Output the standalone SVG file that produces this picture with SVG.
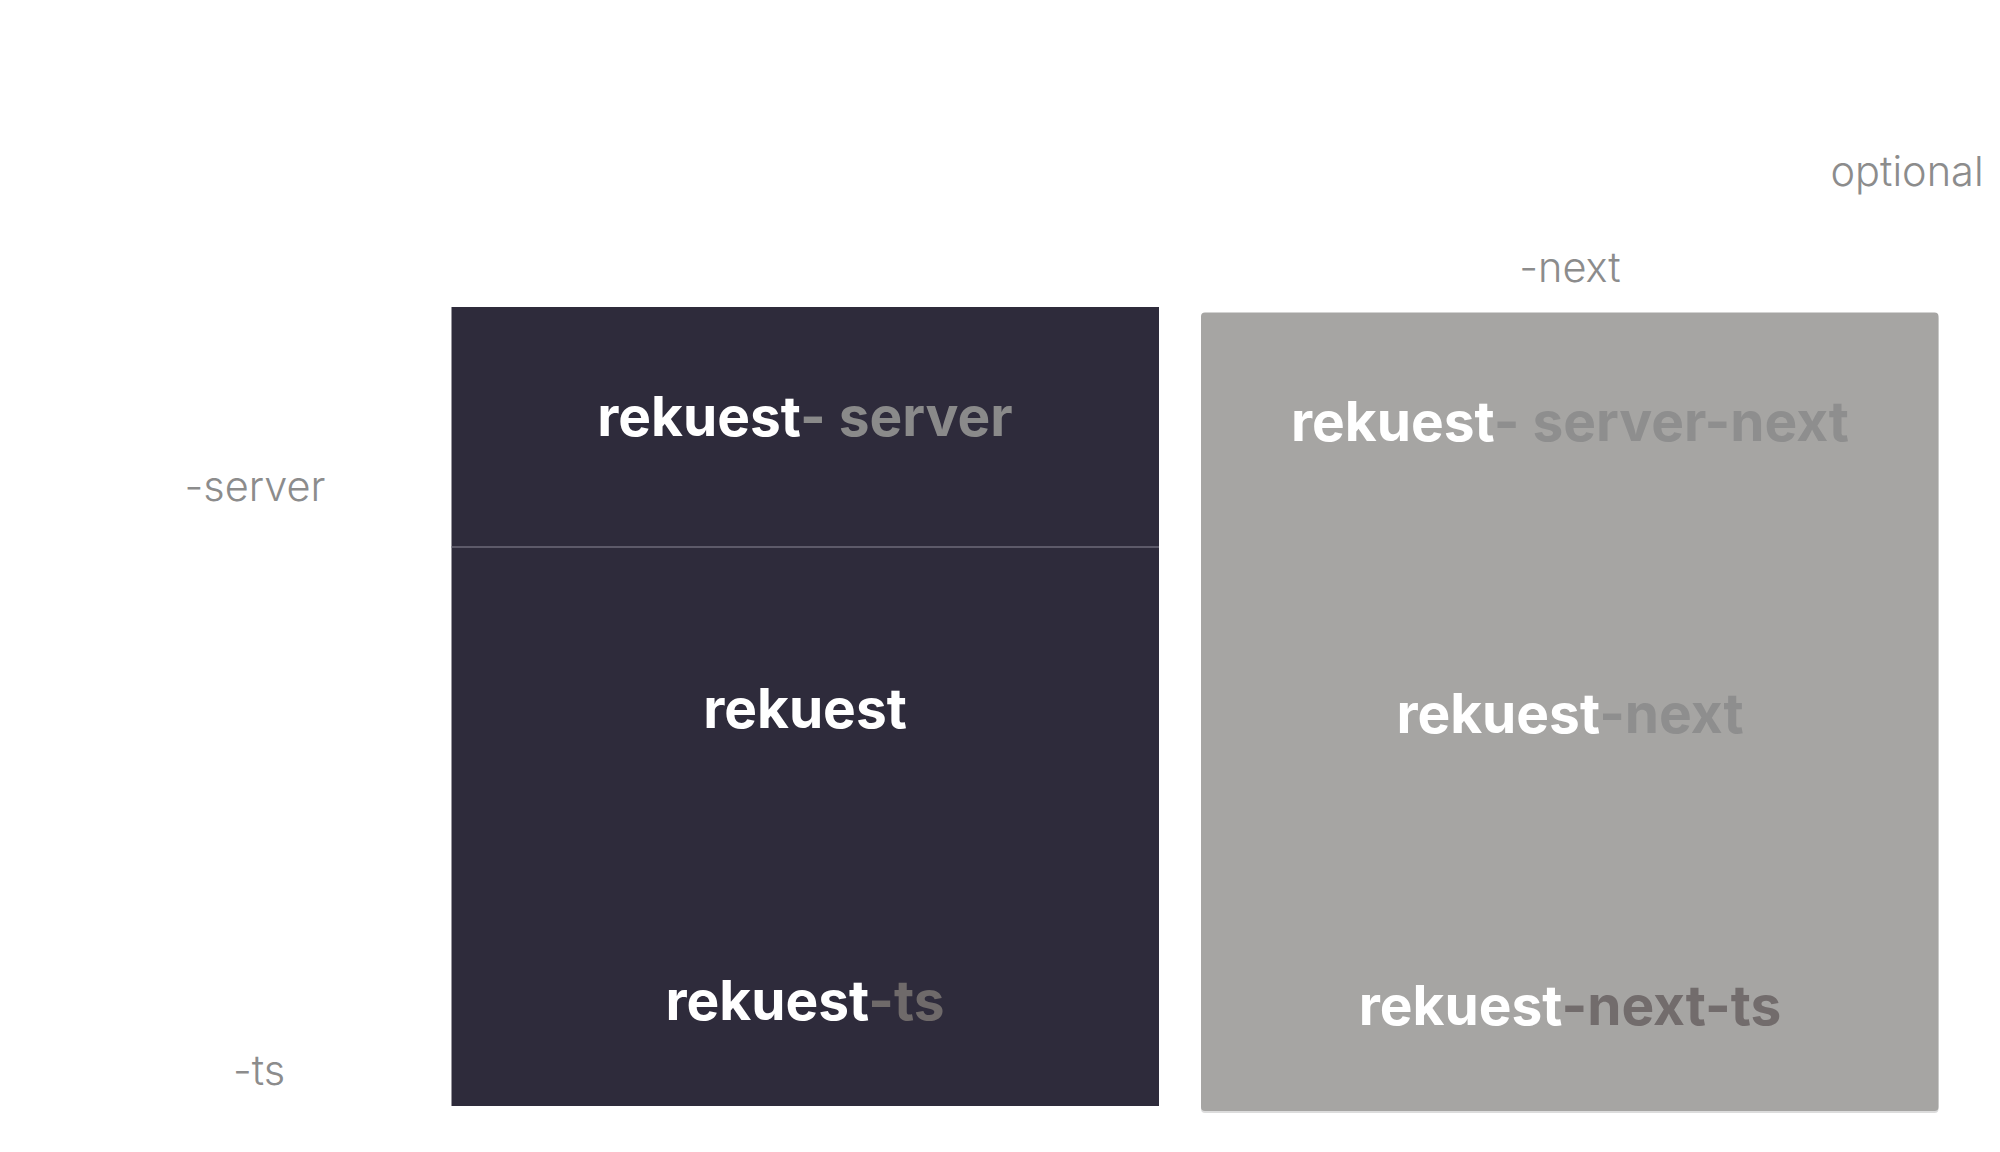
<svg xmlns="http://www.w3.org/2000/svg" width="2000" height="1152" viewBox="0 0 2000 1152">
<style>
.lbl{font-family:Inter,"Noto Sans",sans-serif;font-weight:300;font-size:41.5px;fill:#8c8c8c}
.t{font-family:Inter,"Noto Sans",sans-serif;font-weight:700;font-size:55px;fill:#ffffff}
</style>
<rect width="2000" height="1152" fill="#ffffff"/>
<g id="labels">
<text class="lbl" x="1907" y="186" text-anchor="middle">optional</text>
<text class="lbl" x="1570" y="282" text-anchor="middle">-next</text>
<text class="lbl" x="255" y="501" text-anchor="middle">-server</text>
<text class="lbl" x="259" y="1085" text-anchor="middle">-ts</text>
</g>
<g id="stack">
<rect x="451.5" y="307" width="707.5" height="799" fill="#2e2b3b"/>
<line x1="451.5" y1="547" x2="1159" y2="547" stroke="#6e6b7a" stroke-width="1.5"/>
</g>
<g id="node-server">
<text class="t" x="805" y="436" text-anchor="middle">rekuest<tspan fill="#8a8a8a">- server</tspan></text>
</g>
<g id="node-core">
<text class="t" x="805" y="728" text-anchor="middle">rekuest</text>
</g>
<g id="node-ts">
<text class="t" x="805" y="1020" text-anchor="middle">rekuest<tspan fill="#6f6a6a">-ts</tspan></text>
</g>
<g id="next-stack">
<rect x="1201" y="314.5" width="737.5" height="798.5" rx="4" fill="#dcdcdc"/>
<rect x="1201" y="312.5" width="737.5" height="798.5" rx="4" fill="#a6a5a3"/>
</g>
<g id="node-server-next">
<text class="t" x="1570" y="441" text-anchor="middle">rekuest<tspan fill="#8e8e8e">- server-next</tspan></text>
</g>
<g id="node-next">
<text class="t" x="1570" y="733" text-anchor="middle">rekuest<tspan fill="#8e8e8e">-next</tspan></text>
</g>
<g id="node-next-ts">
<text class="t" x="1570" y="1025" text-anchor="middle">rekuest<tspan fill="#726c6c">-next-ts</tspan></text>
</g>
<g id="connectors"/>
</svg>
